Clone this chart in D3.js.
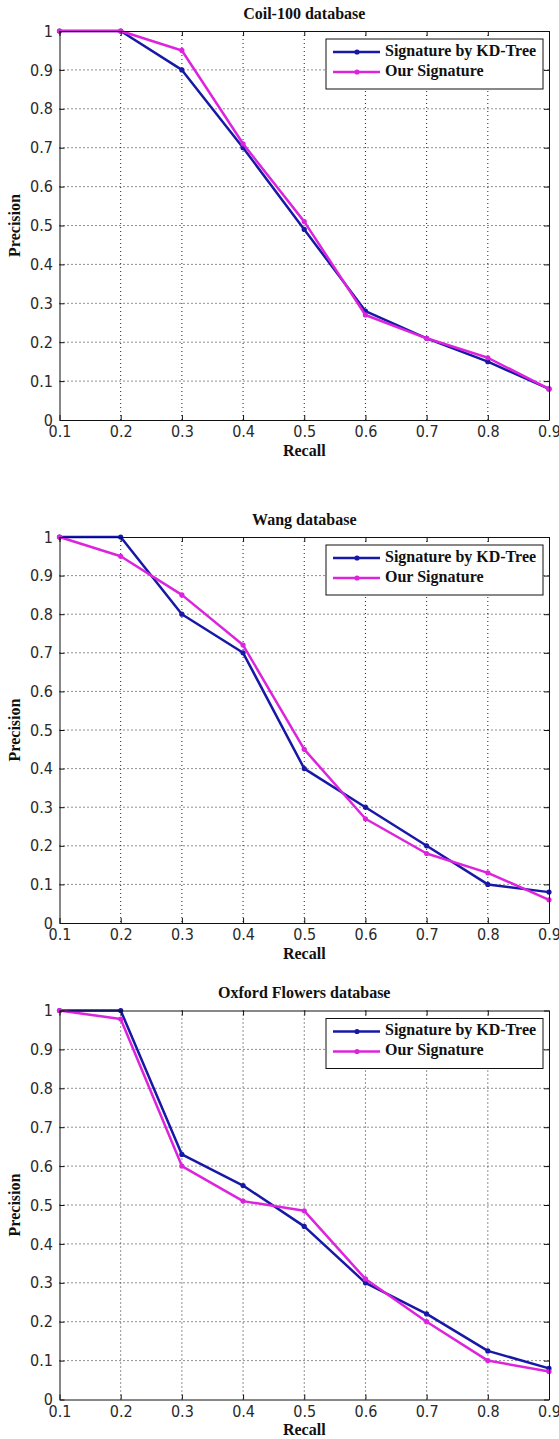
<!DOCTYPE html>
<html>
<head>
  <meta charset="UTF-8">
  <title>Precision / Recall</title>
  <script src="https://d3js.org/d3.v7.min.js"></script>
  <style>
    body { margin: 0; background: #fff; }
    .title, .xlabel, .ylabel, .legend text { font-family: "Liberation Serif", "Times New Roman", serif; font-weight: bold; font-size: 16px; fill: #111; }
    .tick text { font-family: "Liberation Sans Narrow", "DejaVu Sans Condensed", "Liberation Sans", Arial, sans-serif; font-size: 16px; fill: #2a2a2a; }
    .grid line { stroke: #222; stroke-width: 1; stroke-dasharray: 1,3; }
  </style>
</head>
<body>
  <script>
    const recall = [0.1, 0.2, 0.3, 0.4, 0.5, 0.6, 0.7, 0.8, 0.9];
    const yTicks = [0, 0.1, 0.2, 0.3, 0.4, 0.5, 0.6, 0.7, 0.8, 0.9, 1];
    const seriesNames = ["Signature by KD-Tree", "Our Signature"];
    const titles = ["Coil-100 database", "Wang database", "Oxford Flowers database"];

    const coilKd = [1, 1, 0.9, 0.7, 0.49, 0.28, 0.21, 0.15, 0.08];
    const coilOurs = [1, 1, 0.95, 0.71, 0.51, 0.27, 0.21, 0.16, 0.08];
    const wangKd = [1, 1, 0.8, 0.7, 0.4, 0.3, 0.2, 0.1, 0.08];
    const wangOurs = [1, 0.95, 0.85, 0.72, 0.45, 0.27, 0.18, 0.13, 0.06];
    const oxfordKd = [1, 1, 0.63, 0.55, 0.445, 0.3, 0.22, 0.125, 0.08];
    const oxfordOurs = [1, 0.978, 0.6, 0.51, 0.485, 0.31, 0.2, 0.1, 0.072];

    const colors = ["#1818a6", "#dd24dd"];
    const panels = [
      { top: 31, h: 389, kd: coilKd, ours: coilOurs },
      { top: 537, h: 386, kd: wangKd, ours: wangOurs },
      { top: 1010.5, h: 389, kd: oxfordKd, ours: oxfordOurs }
    ];

    const svg = d3.select("body").append("svg")
      .attr("width", 559)
      .attr("height", 1439);

    const left = 59.5, right = 549;
    const x = d3.scaleLinear().domain([0.1, 0.9]).range([left, right]);

    panels.forEach((p, i) => {
      const bottom = p.top + p.h;
      const y = d3.scaleLinear().domain([0, 1]).range([bottom, p.top]);
      const g = svg.append("g");

      // dotted grid
      const grid = g.append("g").attr("class", "grid");
      grid.selectAll(".gx").data(recall.slice(1, -1)).join("line")
        .attr("x1", d => x(d)).attr("x2", d => x(d))
        .attr("y1", p.top).attr("y2", bottom);
      grid.selectAll(".gy").data(yTicks.slice(1, -1)).join("line")
        .attr("class", "gy")
        .attr("x1", left).attr("x2", right)
        .attr("y1", d => y(d)).attr("y2", d => y(d));

      // series
      [p.kd, p.ours].forEach((vals, s) => {
        const line = d3.line().x((d, j) => x(recall[j])).y(d => y(d));
        g.append("path")
          .datum(vals)
          .attr("d", line)
          .attr("fill", "none")
          .attr("stroke", colors[s])
          .attr("stroke-width", 2.5)
          .attr("stroke-linejoin", "round");
        g.selectAll(".m" + s).data(vals).join("circle")
          .attr("class", "m" + s)
          .attr("cx", (d, j) => x(recall[j]))
          .attr("cy", d => y(d))
          .attr("r", 2.6)
          .attr("fill", colors[s]);
      });

      // axes with inward ticks, box frame
      const fmt = d => String(d);
      const ax = [
        g.append("g").attr("transform", `translate(0,${bottom})`)
          .call(d3.axisBottom(x).tickValues(recall).tickFormat(fmt).tickSizeInner(-5).tickSizeOuter(0).tickPadding(6)),
        g.append("g").attr("transform", `translate(${left},0)`)
          .call(d3.axisLeft(y).tickValues(yTicks).tickFormat(fmt).tickSizeInner(-5).tickSizeOuter(0).tickPadding(6.5)),
        g.append("g").attr("transform", `translate(0,${p.top})`)
          .call(d3.axisTop(x).tickValues(recall).tickFormat("").tickSizeInner(-5).tickSizeOuter(0)),
        g.append("g").attr("transform", `translate(${right},0)`)
          .call(d3.axisRight(y).tickValues(yTicks).tickFormat("").tickSizeInner(-5).tickSizeOuter(0))
      ];
      ax.forEach(a => {
        a.attr("font-family", null).attr("font-size", null);
        a.selectAll("path, line").attr("stroke", "#111");
      });

      // labels
      g.append("text").attr("class", "title")
        .attr("x", (left + right) / 2).attr("y", p.top - 16)
        .attr("text-anchor", "middle").attr("dominant-baseline", "middle")
        .text(titles[i]);
      g.append("text").attr("class", "xlabel")
        .attr("x", (left + right) / 2).attr("y", bottom + 32)
        .attr("text-anchor", "middle").attr("dominant-baseline", "middle")
        .text("Recall");
      g.append("text").attr("class", "ylabel")
        .attr("transform", `translate(16,${(p.top + bottom) / 2}) rotate(-90)`)
        .attr("text-anchor", "middle").attr("dominant-baseline", "middle")
        .text("Precision");

      // legend
      const lg = g.append("g").attr("class", "legend")
        .attr("transform", `translate(326,${p.top + 8})`);
      lg.append("rect")
        .attr("width", 217).attr("height", 50)
        .attr("fill", "#fff").attr("stroke", "#111").attr("stroke-width", 1);
      seriesNames.forEach((name, s) => {
        const ry = 13 + s * 20;
        lg.append("line")
          .attr("x1", 7).attr("x2", 54).attr("y1", ry).attr("y2", ry)
          .attr("stroke", colors[s]).attr("stroke-width", 2.5);
        lg.append("circle").attr("cx", 31).attr("cy", ry).attr("r", 2.6).attr("fill", colors[s]);
        lg.append("text").attr("x", 59).attr("y", ry)
          .attr("dominant-baseline", "middle")
          .text(name);
      });
    });
  </script>
</body>
</html>
